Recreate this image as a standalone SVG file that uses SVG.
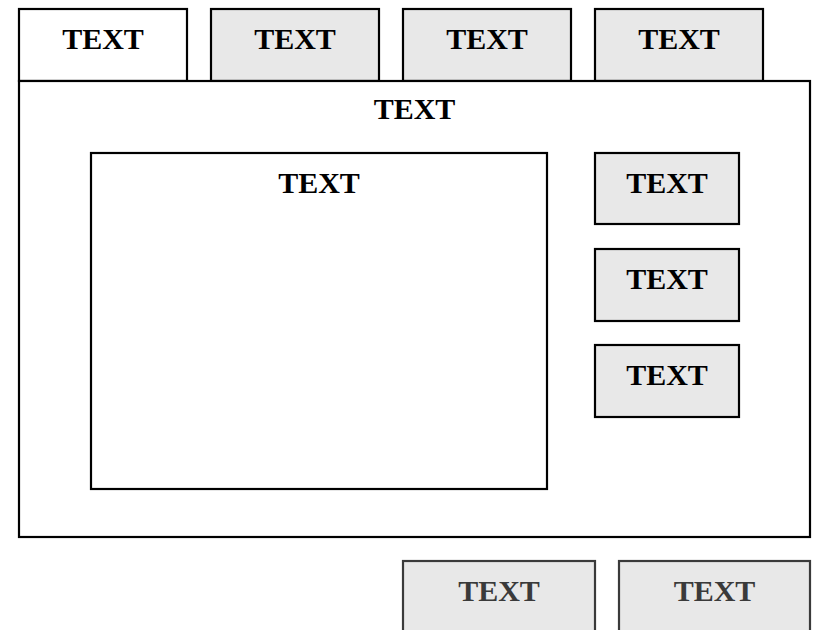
<svg xmlns="http://www.w3.org/2000/svg" width="817" height="630" viewBox="0 0 817 630">
<style>
.b{stroke:#000;stroke-width:2.2}
.w{fill:#fff}
.g{fill:#e8e8e8}
.d{fill:#e8e8e8;stroke:#3a3a3a;stroke-width:2.2}
text{font-family:"Liberation Serif","Times New Roman",serif;font-weight:bold;font-size:30px;text-anchor:middle;fill:#000}
.dt{fill:#3a3a3a}
</style>
<rect width="817" height="630" fill="#fff"/>
<g id="tab1"><rect class="b w" x="19" y="9" width="168" height="72"/><text x="103" y="49">TEXT</text></g>
<g id="tab2"><rect class="b g" x="211" y="9" width="168" height="72"/><text x="295" y="49">TEXT</text></g>
<g id="tab3"><rect class="b g" x="403" y="9" width="168" height="72"/><text x="487" y="49">TEXT</text></g>
<g id="tab4"><rect class="b g" x="595" y="9" width="168" height="72"/><text x="679" y="49">TEXT</text></g>
<g id="main"><rect class="b w" x="19" y="81" width="791" height="456"/><text x="414.5" y="119">TEXT</text></g>
<g id="inner"><rect class="b w" x="91" y="153" width="456" height="336"/><text x="319" y="193">TEXT</text></g>
<g id="side1"><rect class="b g" x="595" y="153" width="144" height="71"/><text x="667" y="193">TEXT</text></g>
<g id="side2"><rect class="b g" x="595" y="249" width="144" height="72"/><text x="667" y="289">TEXT</text></g>
<g id="side3"><rect class="b g" x="595" y="345" width="144" height="72"/><text x="667" y="385">TEXT</text></g>
<g id="bottom1"><rect class="d" x="403" y="561" width="192" height="90"/><text class="dt" x="499" y="601">TEXT</text></g>
<g id="bottom2"><rect class="d" x="619" y="561" width="191" height="90"/><text class="dt" x="714.5" y="601">TEXT</text></g>
<g id="connectors"></g>
</svg>
